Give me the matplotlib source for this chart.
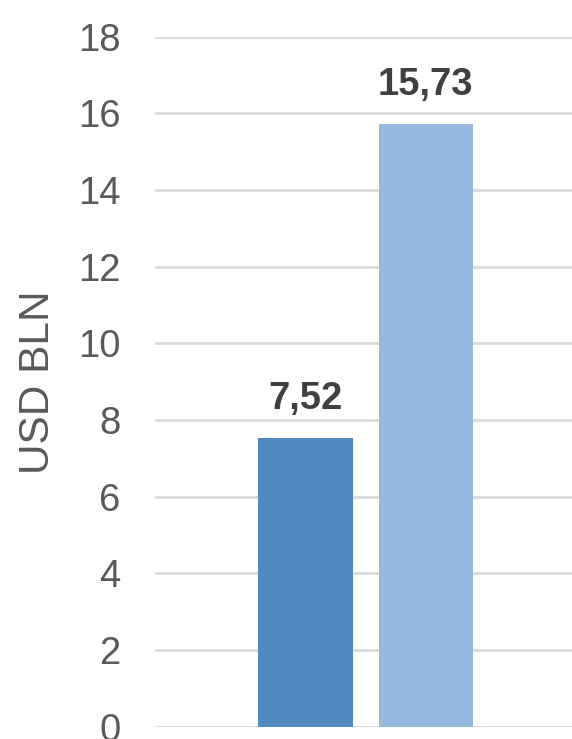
import matplotlib.pyplot as plt

# data
categories = ['A', 'B']
values = [7.52, 15.73]
value_labels = ['7,52', '15,73']
bar_colors = ['#4F89BD', '#97B9E0']
yticks = [0, 2, 4, 6, 8, 10, 12, 14, 16, 18]

plt.rcParams['font.family'] = ['Liberation Sans', 'DejaVu Sans']

fig = plt.figure(figsize=(5.72, 7.39), dpi=100)
ax = fig.add_axes([155 / 572, 1 - 726.7 / 739, 417 / 572, 690 / 739])

x = list(range(len(categories)))
bars = ax.bar(x, values, width=0.786, color=bar_colors, zorder=3)

for b, lab in zip(bars, value_labels):
    ax.annotate(lab, (b.get_x() + b.get_width() / 2, b.get_height()),
                xytext=(0, 21), textcoords='offset points',
                ha='center', va='baseline', fontsize=27.5,
                fontweight='bold', color='#404040')

ax.set_ylim(0, 18)
ax.set_xlim(-1.251, 2.215)
ax.set_yticks(yticks)
ax.set_xticks([])
ax.tick_params(axis='y', length=0, pad=25, labelsize=27.5, labelcolor='#595959')
ax.grid(axis='y', color='#D9D9D9', linewidth=2, zorder=0)
for s in ax.spines.values():
    s.set_visible(False)

fig.text(38 / 572, 1 - 381.7 / 739, 'USD BLN', rotation=90, ha='center',
         va='center', fontsize=30.5, color='#595959')

fig.savefig('out.png', dpi=100)
